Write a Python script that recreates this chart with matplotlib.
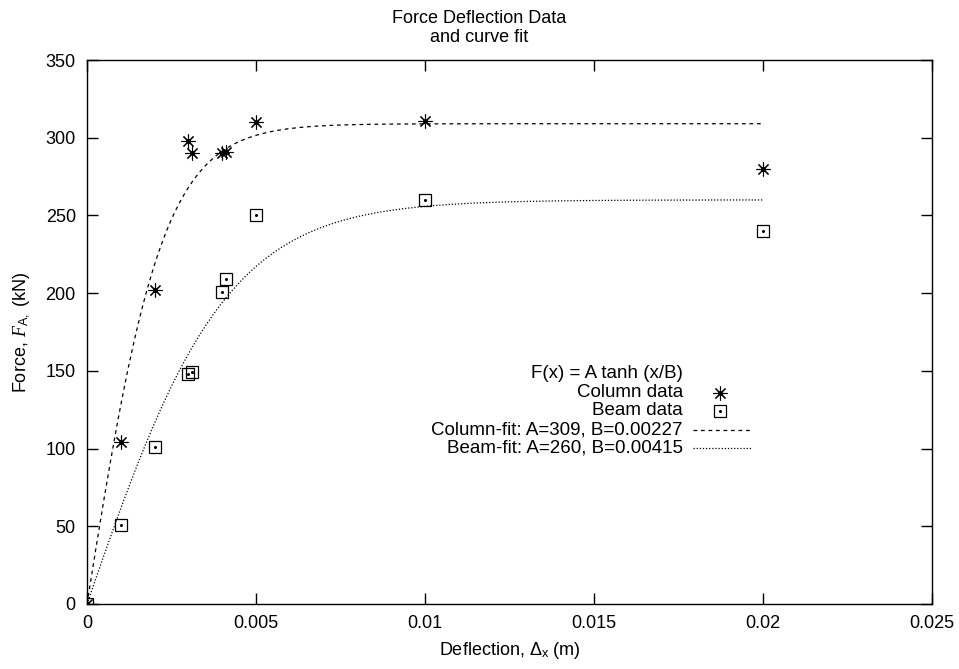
import numpy as np
import matplotlib
matplotlib.use("Agg")
import matplotlib.pyplot as plt
from matplotlib.ticker import FuncFormatter, MultipleLocator

plt.rcParams['font.family'] = ['Liberation Sans', 'DejaVu Sans']
plt.rcParams['mathtext.fontset'] = 'custom'
plt.rcParams['mathtext.rm'] = 'Liberation Sans'
plt.rcParams['mathtext.it'] = 'Liberation Serif:italic'

# data
column_x = [0, 0.001, 0.002, 0.003, 0.0031, 0.004, 0.0041, 0.005, 0.01, 0.02]
column_f = [0, 104, 202, 298, 290, 290, 291, 310, 311, 280]
beam_x = [0, 0.001, 0.002, 0.003, 0.0031, 0.004, 0.0041, 0.005, 0.01, 0.02]
beam_f = [0, 51, 101, 148, 149, 201, 209, 250, 260, 240]

# fit parameters as given in the key
column_A, column_B = 309, 0.00227
beam_A, beam_B = 260, 0.00415
fit_xmax = 0.02

key_title = 'F(x) = A tanh (x/B)'
key_labels = ['Column data', 'Beam data',
              'Column-fit: A=309, B=0.00227', 'Beam-fit: A=260, B=0.00415']

FS = 13

fig = plt.figure(figsize=(9.59, 6.69), dpi=100)
ax = fig.add_axes([0.0907, 0.0972, 0.8811, 0.8131])

xs = np.linspace(0, fit_xmax, 200)
ax.plot(xs, column_A * np.tanh(xs / column_B), color='black', lw=0.9,
        linestyle=(0, (3, 3)))
ax.plot(xs, beam_A * np.tanh(xs / beam_B), color='black', lw=0.9,
        linestyle=(0, (1, 1.5)))

star = (8, 2, 0)
ax.plot(column_x, column_f, linestyle='none', marker=star, ms=10,
        mec='black', mew=0.8)
ax.plot(column_x, column_f, linestyle='none', marker='o', ms=2.5,
        color='black')
ax.plot(beam_x, beam_f, linestyle='none', marker='s', ms=9.3,
        mfc='none', mec='black', mew=0.9)
ax.plot(beam_x, beam_f, linestyle='none', marker='o', ms=1.2,
        color='black')

ax.set_xlim(0, 0.025)
ax.set_ylim(0, 350)
ax.xaxis.set_major_locator(MultipleLocator(0.005))
ax.yaxis.set_major_locator(MultipleLocator(50))
ax.xaxis.set_major_formatter(FuncFormatter(lambda v, p: '%g' % round(v, 4)))
ax.tick_params(direction='in', length=8, width=1, top=True, right=True,
               labelsize=FS, pad=8)
for s in ax.spines.values():
    s.set_linewidth(1)

ax.set_xlabel(r'Deflection, $\Delta_{\rm x}$ (m)', fontsize=FS, labelpad=6)
ax.set_ylabel(r'Force, $F_{\rm A,}$ (kN)', fontsize=FS, labelpad=10)

fig.text(0.5, 1 - 23 / 669, 'Force Deflection Data', ha='center',
         va='baseline', fontsize=FS)
fig.text(0.5, 1 - 42 / 669, 'and curve fit', ha='center',
         va='baseline', fontsize=FS)

# key drawn by hand, gnuplot style
def ax_pt(px, py):
    return ((px - 87) / 845.0, (604 - py) / 544.0)

tx = ax_pt(683, 0)[0]
rows_y = [374, 393, 411, 430, 448]
ax.text(tx, ax_pt(0, rows_y[0])[1], key_title, transform=ax.transAxes,
        ha='right', va='center', fontsize=13.5)
for lab, py in zip(key_labels, rows_y[1:]):
    ax.text(tx, ax_pt(0, py)[1], lab, transform=ax.transAxes,
            ha='right', va='center', fontsize=13.5)

sx0, sx1 = ax_pt(693, 0)[0], ax_pt(751, 0)[0]
smid = ax_pt(720, 0)[0]
ax.plot([smid], [ax_pt(0, rows_y[1])[1]], transform=ax.transAxes,
        marker=star, ms=10, mec='black', mew=0.8, linestyle='none', clip_on=False)
ax.plot([smid], [ax_pt(0, rows_y[1])[1]], transform=ax.transAxes,
        marker='o', ms=2.5, color='black', linestyle='none', clip_on=False)
ax.plot([smid], [ax_pt(0, rows_y[2])[1]], transform=ax.transAxes,
        marker='s', ms=9.3, mfc='none', mec='black', mew=0.9, linestyle='none', clip_on=False)
ax.plot([smid], [ax_pt(0, rows_y[2])[1]], transform=ax.transAxes,
        marker='o', ms=1.2, color='black', linestyle='none', clip_on=False)
ax.plot([sx0, sx1], [ax_pt(0, rows_y[3])[1]] * 2, transform=ax.transAxes,
        color='black', lw=0.9, linestyle=(0, (3, 3)))
ax.plot([sx0, sx1], [ax_pt(0, rows_y[4])[1]] * 2, transform=ax.transAxes,
        color='black', lw=0.9, linestyle=(0, (1, 1.5)))

fig.savefig('out.png', dpi=100)
